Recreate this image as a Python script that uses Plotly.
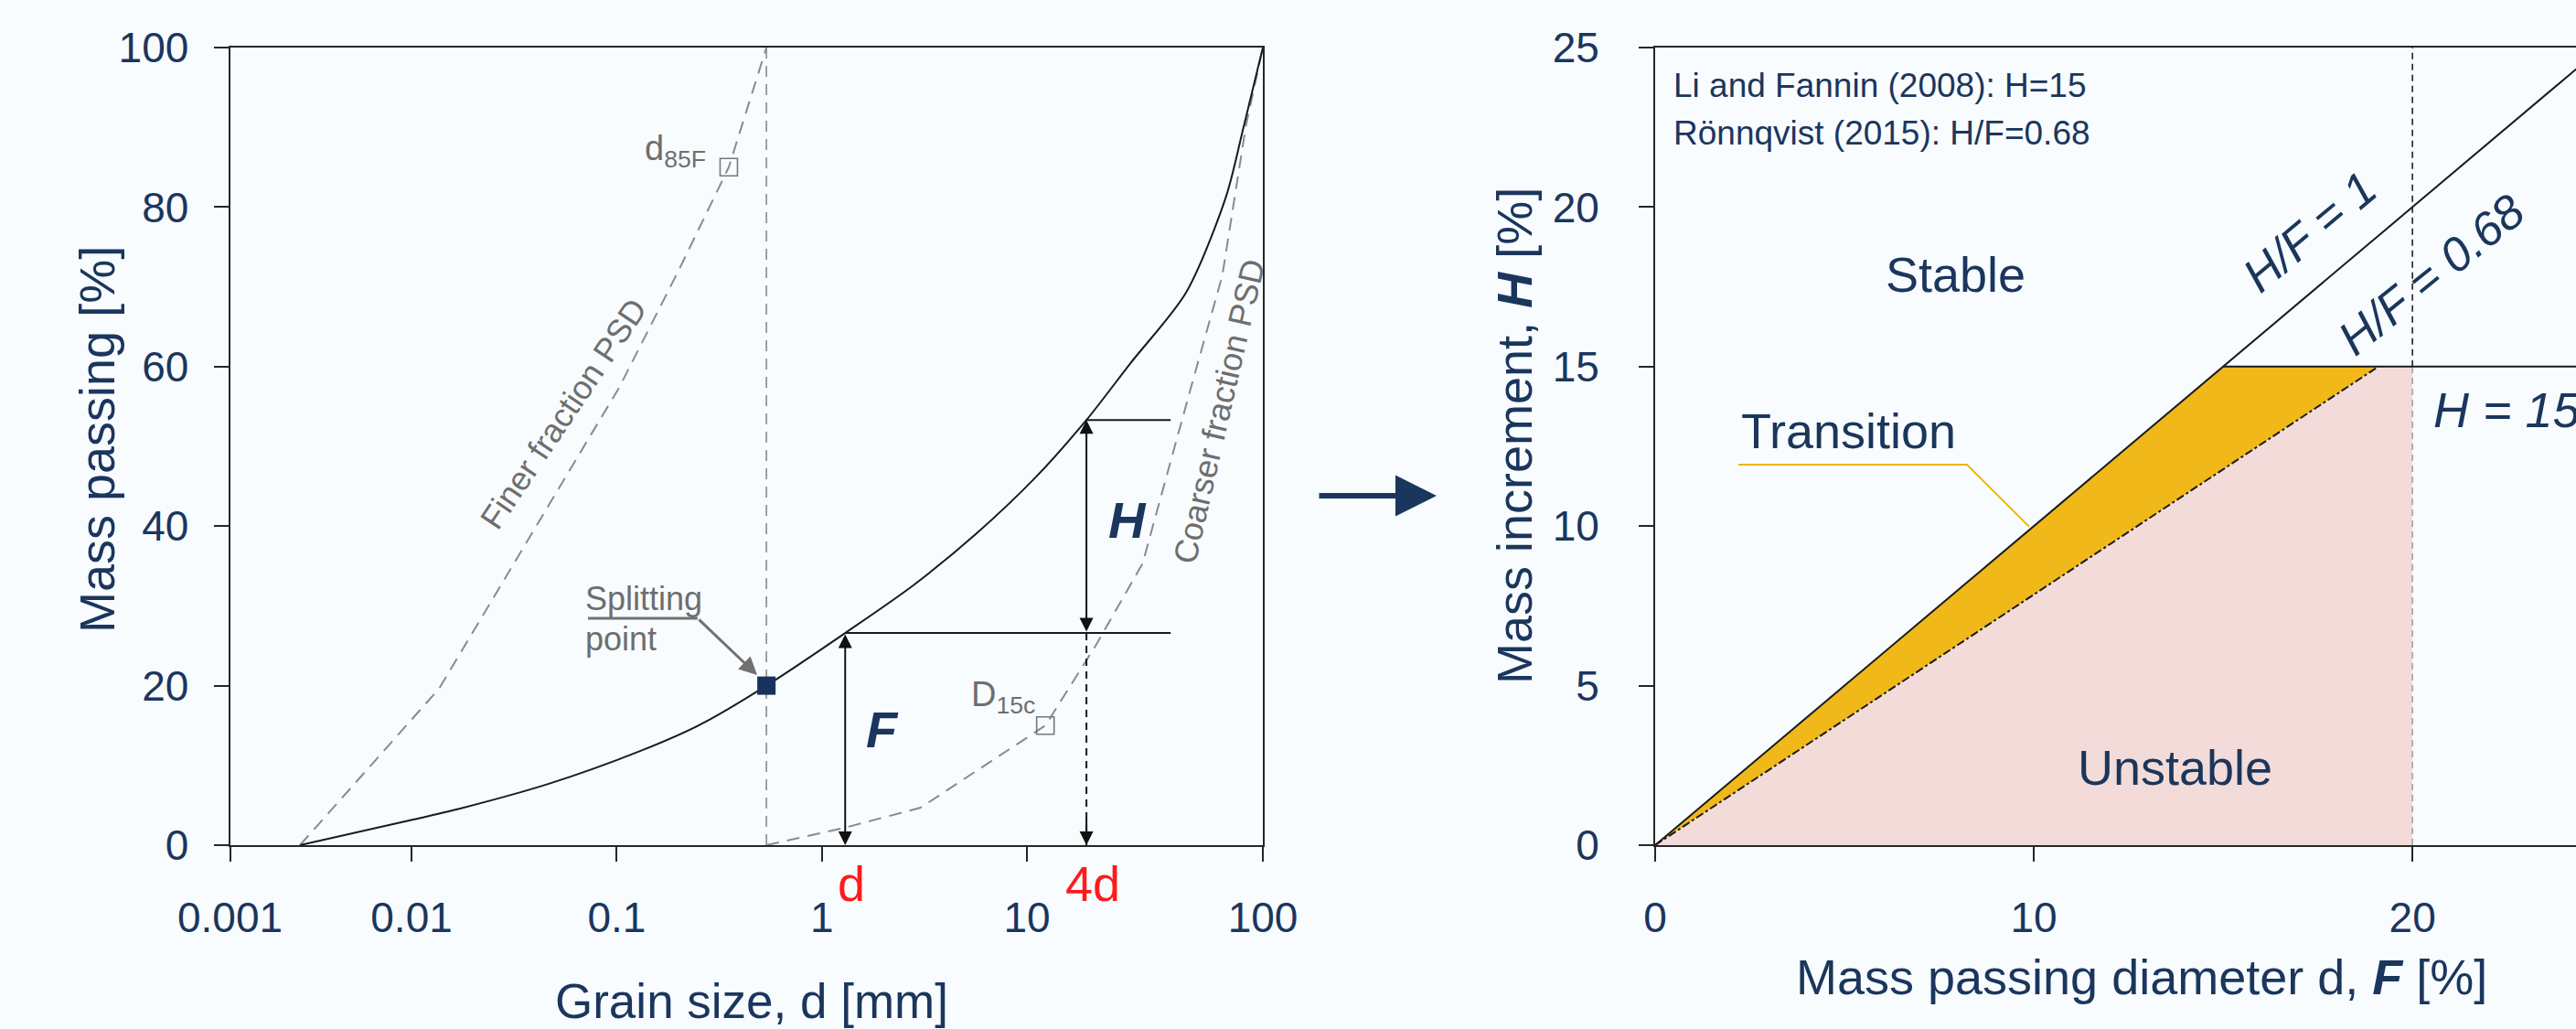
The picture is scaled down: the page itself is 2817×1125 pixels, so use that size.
import numpy as np
import plotly.graph_objects as go

# ---------------- data ----------------
# Left panel: grain size distribution (log axis, values in mm / %)
X_LO_LOG = -2.885          # left edge of the log axis (labelled "0.001")
X_HI_LOG = 2.150           # right edge of the log axis (labelled "100")
left_tick_text = ["0.001", "0.01", "0.1", "1", "10", "100"]
left_tick_vals = [10 ** X_LO_LOG, 0.01, 0.1, 1, 10, 10 ** X_HI_LOG]

psd_d = [0.00286, 0.0102, 0.0167, 0.0467, 0.130, 0.259, 0.537, 1.30,
         2.8, 5.69, 11.1, 19.5, 31.9, 59.7, 93.4, 112.5, 10 ** X_HI_LOG]
psd_p = [0, 3.2, 4.5, 7.7, 11.8, 15.2, 20.0, 26.6,
         32.6, 39.1, 46.2, 53.3, 60.4, 69.3, 81.3, 89.5, 100]

finer_d = [0.00286, 0.0136, 0.103, 0.2, 0.352, 0.537]
finer_p = [0, 19.6, 57.4, 72, 85, 100]

coarser_d = [0.537, 1.30, 3.03, 12.3, 21.6, 36.6, 64.0, 89.6, 117, 10 ** X_HI_LOG]
coarser_p = [0, 2.2, 4.7, 15, 25, 35.3, 58, 71.4, 90.3, 100]

split_d, split_p = 0.537, 20
d_val, F_val = 1.30, 26.6
d4_val, H_top = 19.5, 53.3
hline_end = 50.2
d85F = (0.352, 85)
D15c = (12.3, 15)

# Right panel: H vs F criterion
X2_MAX = 24.32
H_lim = 15
ratio_end_F = 19.1          # where the H/F=0.68 (drawn) line meets H=15
F_dash = 20

# ---------------- style ----------------
BG = "#f8fcfe"
NAVY = "#1b365d"
AX = "#262626"
GRAYTXT = "#6e6e6e"
DASHGRAY = "#8a8a8a"
RED = "#ff1a1a"
FONT = "Liberation Sans, Arial, sans-serif"
W, Hh = 2817, 1125

def px2x(px):
    return px / W

def px2y(py):
    return 1 - py / Hh

L_DOM = [px2x(251.5), px2x(1381)]
R_DOM = [px2x(1810), 1.0]
Y_DOM = [px2y(924), px2y(52)]

fig = go.Figure()

# ---------------- left panel traces ----------------
fig.add_trace(go.Scatter(x=[split_d, split_d], y=[0, 100], mode="lines",
                         line=dict(color=DASHGRAY, width=1.6, dash="12px,8px"),
                         xaxis="x", yaxis="y", hoverinfo="skip"))
fig.add_trace(go.Scatter(x=finer_d, y=finer_p, mode="lines",
                         line=dict(color=DASHGRAY, width=2, dash="14px,9px"),
                         xaxis="x", yaxis="y"))
fig.add_trace(go.Scatter(x=coarser_d, y=coarser_p, mode="lines",
                         line=dict(color=DASHGRAY, width=2, dash="14px,9px"),
                         xaxis="x", yaxis="y"))
fig.add_trace(go.Scatter(x=psd_d, y=psd_p, mode="lines",
                         line=dict(color="#1a1a1a", width=2, shape="spline", smoothing=0.8),
                         xaxis="x", yaxis="y"))
# horizontal helper lines
fig.add_trace(go.Scatter(x=[d_val, hline_end], y=[F_val, F_val], mode="lines",
                         line=dict(color="#1a1a1a", width=2), xaxis="x", yaxis="y"))
fig.add_trace(go.Scatter(x=[d4_val, hline_end], y=[H_top, H_top], mode="lines",
                         line=dict(color="#1a1a1a", width=2), xaxis="x", yaxis="y"))
# dashed vertical at 4d
fig.add_trace(go.Scatter(x=[d4_val, d4_val], y=[0, F_val], mode="lines",
                         line=dict(color="#1a1a1a", width=2, dash="8px,6px"),
                         xaxis="x", yaxis="y"))
# markers
fig.add_trace(go.Scatter(x=[d85F[0], D15c[0]], y=[d85F[1], D15c[1]], mode="markers",
                         marker=dict(symbol="square-open", size=19, color="#777777",
                                     line=dict(width=1.6, color="#777777")),
                         xaxis="x", yaxis="y"))
fig.add_trace(go.Scatter(x=[split_d], y=[split_p], mode="markers",
                         marker=dict(symbol="square", size=20, color="#17325c"),
                         xaxis="x", yaxis="y"))
# underline of "Splitting"
fig.add_trace(go.Scatter(x=[0.0725, 0.248], y=[28.44, 28.44], mode="lines",
                         line=dict(color="#707070", width=3), xaxis="x", yaxis="y"))

# ---------------- right panel traces ----------------
fig.add_trace(go.Scatter(x=[0, ratio_end_F, F_dash, F_dash, 0], y=[0, H_lim, H_lim, 0, 0],
                         mode="lines", fill="toself", fillcolor="#f3dbd9",
                         line=dict(width=0, color="rgba(0,0,0,0)"),
                         xaxis="x2", yaxis="y2"))
fig.add_trace(go.Scatter(x=[0, H_lim, ratio_end_F, 0], y=[0, H_lim, H_lim, 0],
                         mode="lines", fill="toself", fillcolor="#f0b818",
                         line=dict(width=0, color="rgba(0,0,0,0)"),
                         xaxis="x2", yaxis="y2"))
fig.add_trace(go.Scatter(x=[F_dash, F_dash], y=[0, H_lim], mode="lines",
                         line=dict(color="#a8a0a0", width=1.6, dash="7px,5px"),
                         xaxis="x2", yaxis="y2"))
fig.add_trace(go.Scatter(x=[F_dash, F_dash], y=[H_lim, 25], mode="lines",
                         line=dict(color="#222222", width=1.6, dash="7px,5px"),
                         xaxis="x2", yaxis="y2"))
fig.add_trace(go.Scatter(x=[0, 30], y=[0, 30], mode="lines",
                         line=dict(color="#1a1a1a", width=2), xaxis="x2", yaxis="y2"))
fig.add_trace(go.Scatter(x=[0, ratio_end_F], y=[0, H_lim], mode="lines",
                         line=dict(color="#1a1a1a", width=2, dash="dashdot"),
                         xaxis="x2", yaxis="y2"))
fig.add_trace(go.Scatter(x=[H_lim, 30], y=[H_lim, H_lim], mode="lines",
                         line=dict(color="#1a1a1a", width=2), xaxis="x2", yaxis="y2"))
# leader line for "Transition"
fig.add_trace(go.Scatter(x=[2.20, 8.23, 9.88], y=[11.93, 11.93, 9.98], mode="lines",
                         line=dict(color="#f0b400", width=2), xaxis="x2", yaxis="y2"))

# ---------------- annotations ----------------
ann = []
lg = np.log10

def txt(x, y, text, size, color=NAVY, xref="x", yref="y", angle=0, xanchor="center",
        yanchor="middle"):
    ann.append(dict(x=x, y=y, xref=xref, yref=yref, text=text, showarrow=False,
                    font=dict(size=size, color=color, family=FONT), textangle=angle,
                    xanchor=xanchor, yanchor=yanchor))

# left panel texts
txt(lg(0.0549), 54.1, "Finer fraction PSD", 36, GRAYTXT, angle=-56)
txt(lg(86.5), 54.4, "Coarser fraction PSD", 36, GRAYTXT, angle=-77)
txt(lg(0.194), 87.0, "d<sub>85F</sub>", 38, GRAYTXT)
txt(lg(7.67), 18.6, "D<sub>15c</sub>", 38, GRAYTXT)
txt(lg(1.97), 14.45, "<b><i>F</i></b>", 56, NAVY)
txt(lg(30.8), 40.8, "<b><i>H</i></b>", 56, NAVY)
txt(lg(0.0689), 30.85, "Splitting", 36, GRAYTXT, xanchor="left")
txt(lg(0.0689), 25.9, "point", 36, GRAYTXT, xanchor="left")
# red d / 4d labels just below the axis (paper coordinates)
txt(px2x(931), px2y(966), "d", 54, RED, "paper", "paper")
txt(px2x(1195), px2y(966), "4d", 54, RED, "paper", "paper")

# left panel arrows
arrow_common = dict(xref="x", yref="y", axref="x", ayref="y", text="", showarrow=True,
                    arrowcolor="#111111", arrowwidth=2, arrowhead=2, arrowsize=1.5)
ann.append(dict(x=lg(d_val), y=0, ax=lg(d_val), ay=F_val, arrowside="end+start", **arrow_common))
ann.append(dict(x=lg(d4_val), y=H_top, ax=lg(d4_val), ay=F_val, arrowside="end+start", **arrow_common))
ann.append(dict(x=lg(d4_val), y=0, ax=lg(d4_val), ay=3.5, arrowside="end", **arrow_common))
ann.append(dict(x=lg(0.484), y=21.33, ax=lg(0.248), ay=28.44, xref="x", yref="y",
                axref="x", ayref="y", text="", showarrow=True, arrowcolor="#707070",
                arrowwidth=3, arrowhead=2, arrowsize=1.3))

# right panel texts
txt(0.43, 23.8, "Li and Fannin (2008): H=15", 37, NAVY, "x2", "y2", xanchor="left")
txt(0.43, 22.33, "Rönnqvist (2015): H/F=0.68", 37, NAVY, "x2", "y2", xanchor="left")
txt(7.93, 17.89, "Stable", 54, NAVY, "x2", "y2")
txt(5.10, 12.99, "Transition", 54, NAVY, "x2", "y2")
txt(13.72, 2.44, "Unstable", 54, NAVY, "x2", "y2")
txt(17.29, 19.24, "<i>H/F = 1</i>", 52, NAVY, "x2", "y2", angle=-40)
txt(20.5, 17.89, "<i>H/F = 0.68</i>", 52, NAVY, "x2", "y2", angle=-39)
txt(20.5, 13.65, "<i>H = 15</i>", 54, NAVY, "x2", "y2", xanchor="left")

# axis titles
txt(px2x(822), px2y(1094), "Grain size, d [mm]", 53, NAVY, "paper", "paper")
txt(px2x(106), px2y(480), "Mass passing [%]", 54, NAVY, "paper", "paper", angle=-90)
txt(px2x(2342), px2y(1068), "Mass passing diameter d, <b><i>F</i></b> [%]", 54, NAVY,
    "paper", "paper")
txt(px2x(1656), px2y(477), "Mass increment, <b><i>H</i></b> [%]", 54, NAVY,
    "paper", "paper", angle=-90)

# arrow between panels
ann.append(dict(x=px2x(1571), y=px2y(542), xref="paper", yref="paper", ax=-130, ay=0,
                axref="pixel", ayref="pixel", text="", showarrow=True, arrowcolor=NAVY,
                arrowwidth=6, arrowhead=2, arrowsize=1.5))

axis_common = dict(showline=True, linecolor=AX, linewidth=2, ticks="outside", ticklen=16,
                   tickwidth=2, tickcolor=AX, showgrid=False, zeroline=False,
                   automargin=False,
                   tickfont=dict(size=46, color=NAVY, family=FONT))

fig.update_layout(
    width=W, height=Hh, autosize=False,
    paper_bgcolor=BG, plot_bgcolor=BG,
    margin=dict(l=0, r=0, t=0, b=0, pad=0, autoexpand=False),
    showlegend=False,
    font=dict(family=FONT, color=NAVY),
    xaxis=dict(type="log", range=[X_LO_LOG, X_HI_LOG], domain=L_DOM, anchor="y",
               tickmode="array", tickvals=left_tick_vals, ticktext=left_tick_text,
               mirror=True, ticklabelstandoff=22, **axis_common),
    yaxis=dict(range=[0, 100], domain=Y_DOM, anchor="x", tickmode="linear", tick0=0,
               dtick=20, mirror=True, ticklabelstandoff=18, **axis_common),
    xaxis2=dict(range=[0, X2_MAX], domain=R_DOM, anchor="y2", tickmode="linear", tick0=0,
                dtick=10, mirror=True, ticklabelstandoff=22, **axis_common),
    yaxis2=dict(range=[0, 25], domain=Y_DOM, anchor="x2", tickmode="linear", tick0=0,
                dtick=5, mirror=False, ticklabelstandoff=34, **axis_common),
    annotations=ann,
)

fig.write_html("out.html", config={"responsive": False, "displayModeBar": False},
               post_script="document.body.style.margin='0';document.body.style.overflow='hidden';")
